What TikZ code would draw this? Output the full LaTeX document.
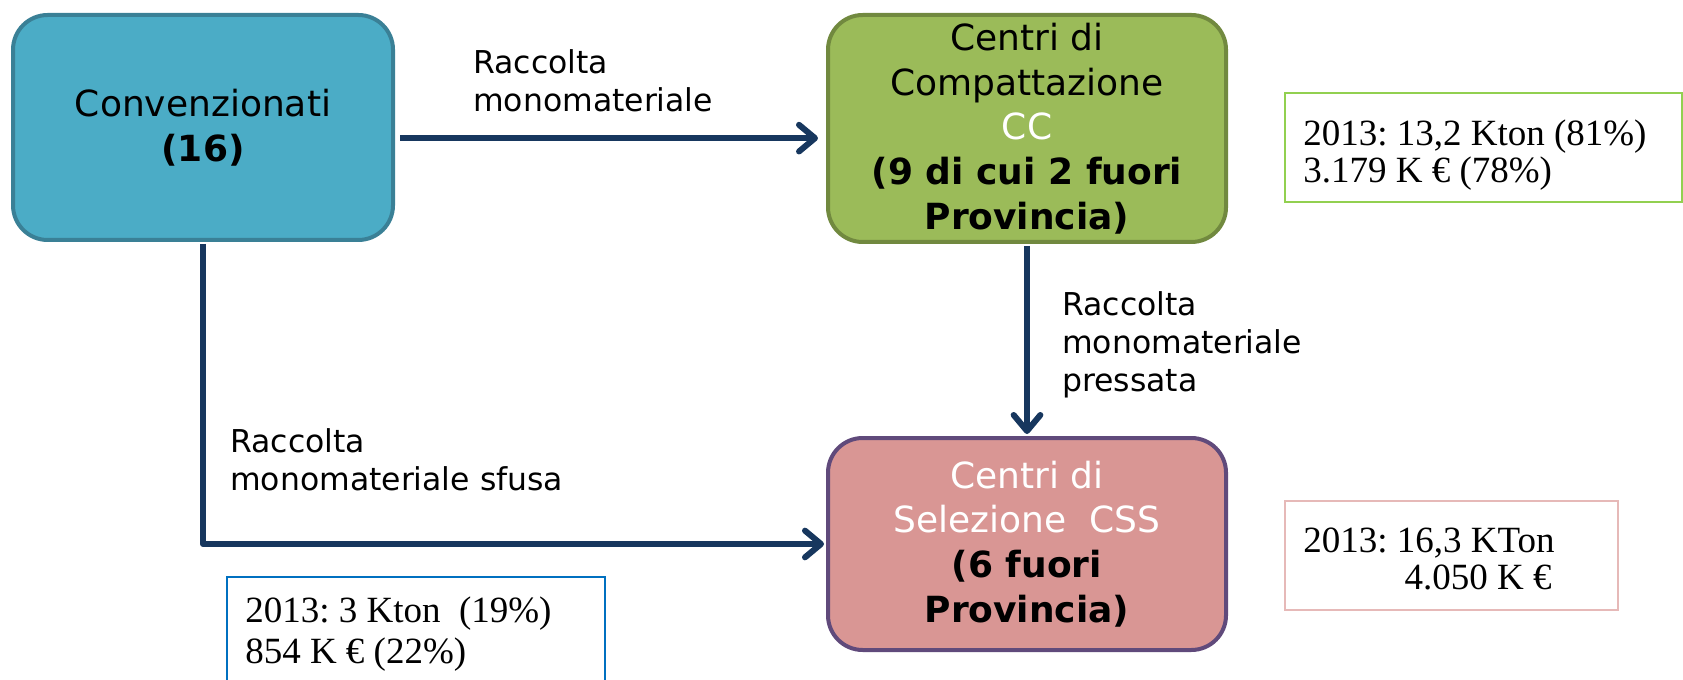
\documentclass[tikz,border=0pt]{standalone}
\usepackage{fontspec}
\setmainfont{DejaVu Sans}
\newfontfamily\statfont{Liberation Serif}
\usetikzlibrary{arrows.meta}
\frenchspacing

\definecolor{convblue}{HTML}{4BACC6}
\definecolor{convedge}{HTML}{3A8096}
\definecolor{ccgreen}{HTML}{9BBB59}
\definecolor{ccedge}{HTML}{71893F}
\definecolor{csspink}{HTML}{D99694}
\definecolor{cssedge}{HTML}{604A7B}
\definecolor{flownavy}{HTML}{17375E}
\definecolor{datagreen}{HTML}{92D050}
\definecolor{datablue}{HTML}{0070C0}
\definecolor{datapink}{HTML}{E6B9B8}

\begin{document}
\begin{tikzpicture}[x=0.75pt,y=-0.75pt,
  centre/.style={draw, line width=3pt, rounded corners=26pt, align=center, inner sep=0pt, font=\fontsize{27}{33.5}\selectfont},
  flow/.style={draw=flownavy, line width=4.5pt, line join=round, -{Straight Barb[length=12pt,width=20pt,round]}},
  flowlabel/.style={anchor=north west, align=left, inner sep=0pt, font=\fontsize{23.6}{28.5}\selectfont},
  databox/.style={draw, anchor=north west, minimum height=81.75pt, inner sep=0pt},
  datatext/.style={anchor=north west, align=left, inner sep=0pt, font=\statfont\fontsize{27.75}{27.75}\selectfont}]

\useasboundingbox (0,0) rectangle (1683,680);

\node[centre, fill=convblue, draw=convedge, minimum width=285pt, minimum height=168.75pt] (conv) at (203,127.5) {Convenzionati\\\textbf{(16)}};
\node[centre, fill=ccgreen, draw=ccedge, minimum width=298.5pt, minimum height=170.25pt] (cc) at (1027,128.5) {Centri di\\Compattazione\\\textcolor{white}{CC}\\\textbf{(9 di cui 2 fuori}\\\textbf{Provincia)}};
\node[centre, fill=csspink, draw=cssedge, minimum width=298.5pt, minimum height=159pt] (css) at (1027,544) {\textcolor{white}{Centri di}\\\textcolor{white}{Selezione~~CSS}\\\textbf{(6 fuori}\\\textbf{Provincia)}};

\node[databox, draw=datagreen, line width=1.8pt, minimum width=297.75pt] (ccdata) at (1284,92) {};
\node[datatext] (ccdatatext) at (1303,119.5) {2013: 13,2 Kton (81\%)\\3.179 K € (78\%)};
\node[databox, draw=datablue, line width=1.5pt, minimum width=283.5pt, minimum height=84pt] (convdata) at (226,576) {};
\node[datatext, font=\statfont\fontsize{27.75}{30.75}\selectfont] (convdatatext) at (245,596.5) {2013: 3 Kton~~(19\%)\\854 K € (22\%)};
\node[databox, draw=datapink, line width=1.2pt, minimum width=249.75pt] (cssdata) at (1284,500) {};
\node[datatext] (cssdatatext) at (1303,528) {2013: 16,3 KTon\\\hspace*{76pt}4.050 K €};

\node[flowlabel] (toplabel) at (473,49) {Raccolta\\monomateriale};
\node[flowlabel] (downlabel) at (1062,291) {Raccolta\\monomateriale\\pressata};
\node[flowlabel] (sidelabel) at (230,428) {Raccolta\\monomateriale sfusa};

\draw[flow, shorten <=3.75pt, shorten >=6pt] ([yshift=-8pt]conv.east) coordinate (topstart) -- (cc.west |- topstart);
\draw[flow, shorten <=1.5pt, shorten >=1.5pt] (cc.south) -- (css.north);
\draw[flow, shorten <=1.5pt, shorten >=1.5pt] (conv.south) |- (css.west);

\end{tikzpicture}
\end{document}
